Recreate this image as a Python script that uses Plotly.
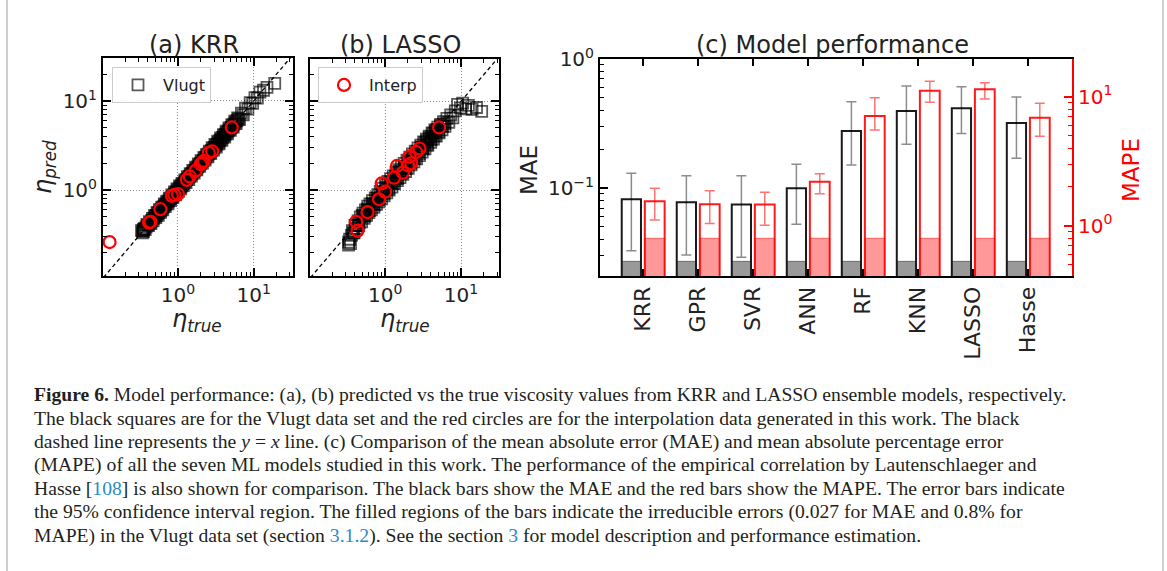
import plotly.graph_objects as go

W, H = 1167, 571


def fx(x):
    return x / W


def fy(y):
    return 1 - y / H


# ---------------- (a), (b): predicted vs true viscosity ----------------
krr_vlugt_true = [
    0.33, 0.34, 0.35, 0.35, 0.36, 0.37, 0.39, 0.41, 0.42, 0.44, 0.46, 0.47, 0.49, 0.51,
    0.53, 0.55, 0.57, 0.59, 0.61, 0.63, 0.66, 0.68, 0.71, 0.74, 0.77, 0.80, 0.83, 0.86,
    0.90, 0.93, 0.97, 1.01, 1.05, 1.09, 1.13, 1.18, 1.23, 1.28, 1.33, 1.39, 1.45, 1.51,
    1.57, 1.64, 1.71, 1.78, 1.86, 1.94, 2.02, 2.11, 2.20, 2.29, 2.39, 2.49, 2.60, 2.71,
    2.83, 2.95, 3.08, 3.21, 3.35, 3.50, 3.65, 3.81, 3.98, 4.15, 4.33, 4.52, 4.72, 4.93,
    5.15, 5.38, 5.62, 5.87, 6.15, 6.5, 6.9, 7.3, 7.8, 8.4, 9.0, 9.7, 10.4, 11.2, 12.1,
    13.5, 15.0, 19.0,
    0.345, 0.38, 0.40, 0.43, 0.45, 0.48, 0.50, 0.52, 0.54, 0.56, 0.58, 0.60, 0.62, 0.645,
    0.67, 0.695, 0.72, 0.75, 0.785, 0.815, 0.845, 0.88, 0.915, 0.95, 0.99, 1.03, 1.07,
    1.11, 1.155, 1.205, 1.255, 1.305, 1.36, 1.42, 1.48, 1.54, 1.605, 1.675, 1.745, 1.82,
    1.90, 1.98, 2.065, 2.155, 2.245, 2.34, 2.44, 2.545, 2.655, 2.77, 2.89, 3.015, 3.145,
    3.28, 3.425, 3.575, 3.73, 3.895, 4.065, 4.24, 4.425, 4.62, 4.825, 5.04, 5.265, 5.50,
    5.745, 6.0, 6.3,
]
krr_vlugt_pred = [
    0.35, 0.33, 0.36, 0.34, 0.37, 0.36, 0.41, 0.40, 0.44, 0.42, 0.48, 0.45, 0.52, 0.49,
    0.56, 0.52, 0.60, 0.56, 0.64, 0.60, 0.70, 0.65, 0.75, 0.70, 0.81, 0.76, 0.88, 0.82,
    0.95, 0.88, 1.03, 0.96, 1.11, 1.03, 1.19, 1.12, 1.30, 1.21, 1.41, 1.31, 1.53, 1.43,
    1.66, 1.55, 1.81, 1.69, 1.96, 1.84, 2.14, 2.00, 2.32, 2.17, 2.52, 2.36, 2.74, 2.57,
    2.99, 2.80, 3.25, 3.04, 3.54, 3.31, 3.85, 3.61, 4.20, 3.93, 4.57, 4.28, 4.98, 4.67,
    5.43, 5.10, 5.93, 5.56, 6.45, 6.2, 7.3, 7.0, 8.3, 8.1, 9.6, 9.4, 10.9, 10.8, 12.6,
    13.2, 14.2, 15.8,
    0.35, 0.385, 0.40, 0.43, 0.455, 0.48, 0.505, 0.52, 0.545, 0.56, 0.585, 0.60, 0.625,
    0.645, 0.675, 0.695, 0.725, 0.75, 0.79, 0.815, 0.85, 0.88, 0.92, 0.95, 0.995, 1.03,
    1.075, 1.11, 1.16, 1.205, 1.26, 1.305, 1.365, 1.42, 1.485, 1.54, 1.61, 1.675, 1.75,
    1.82, 1.905, 1.98, 2.07, 2.155, 2.25, 2.34, 2.445, 2.545, 2.66, 2.77, 2.895, 3.015,
    3.15, 3.28, 3.43, 3.575, 3.735, 3.895, 4.07, 4.24, 4.43, 4.62, 4.83, 5.04, 5.27,
    5.50, 5.75, 6.0, 6.3,
]

lasso_vlugt_true = [
    0.33, 0.33, 0.34, 0.35, 0.36, 0.37, 0.39, 0.40, 0.42, 0.44, 0.45, 0.47, 0.49, 0.51,
    0.53, 0.55, 0.57, 0.59, 0.61, 0.63, 0.66, 0.68, 0.71, 0.74, 0.77, 0.80, 0.83, 0.86,
    0.90, 0.93, 0.97, 1.01, 1.05, 1.09, 1.13, 1.18, 1.23, 1.28, 1.33, 1.39, 1.45, 1.51,
    1.57, 1.64, 1.71, 1.78, 1.86, 1.94, 2.02, 2.11, 2.20, 2.29, 2.39, 2.49, 2.60, 2.71,
    2.83, 2.95, 3.08, 3.21, 3.35, 3.50, 3.65, 3.81, 3.98, 4.15, 4.33, 4.52, 4.72, 4.93,
    5.15, 5.38, 5.62, 5.87, 6.15, 6.5, 6.9, 7.3, 7.8, 8.4, 9.0, 9.8, 10.5, 11.5, 12.5,
    14.0, 16.0, 18.7,
    0.52, 0.60, 0.70, 0.80, 0.92, 1.05, 1.20, 1.38, 1.58, 1.80, 2.05, 2.35, 2.70, 3.10,
    3.55, 4.05, 4.60,
    0.38, 0.41, 0.455, 0.50, 0.54, 0.58, 0.62, 0.67, 0.72, 0.775, 0.835, 0.90, 0.965,
    1.035, 1.11, 1.19, 1.275, 1.365, 1.46, 1.56, 1.67, 1.785, 1.905, 2.035, 2.17, 2.315,
    2.47, 2.63, 2.80, 2.98, 3.17, 3.37, 3.58, 3.80, 4.03, 4.27, 4.52, 4.78, 5.05, 5.35,
    5.7, 6.1,
]
lasso_vlugt_pred = [
    0.24, 0.26, 0.28, 0.25, 0.31, 0.35, 0.33, 0.40, 0.37, 0.45, 0.40, 0.50, 0.44, 0.55,
    0.48, 0.60, 0.52, 0.66, 0.56, 0.70, 0.60, 0.76, 0.64, 0.82, 0.69, 0.89, 0.74, 0.97,
    0.80, 1.05, 0.86, 1.15, 0.93, 1.25, 1.00, 1.35, 1.08, 1.45, 1.18, 1.58, 1.28, 1.70,
    1.38, 1.85, 1.50, 2.00, 1.62, 2.18, 1.76, 2.35, 1.92, 2.55, 2.08, 2.75, 2.25, 2.98,
    2.45, 3.20, 2.68, 3.48, 2.92, 3.75, 3.18, 4.05, 3.45, 4.40, 3.75, 4.75, 4.05, 5.10,
    4.40, 5.50, 4.75, 5.90, 5.2, 6.4, 5.8, 7.0, 6.5, 7.8, 9.2, 8.4, 9.5, 8.2, 9.0,
    8.1, 8.5, 7.7,
    0.51, 0.59, 0.70, 0.78, 0.93, 1.03, 1.21, 1.35, 1.60, 1.76, 2.07, 2.30, 2.72, 3.02,
    3.58, 3.95, 4.62,
    0.33, 0.40, 0.43, 0.52, 0.51, 0.61, 0.59, 0.70, 0.68, 0.81, 0.79, 0.94, 0.91,
    1.08, 1.04, 1.24, 1.19, 1.42, 1.36, 1.62, 1.56, 1.85, 1.77, 2.10, 2.01, 2.38,
    2.28, 2.70, 2.58, 3.05, 2.92, 3.44, 3.28, 3.86, 3.68, 4.32, 4.10, 4.80, 4.55, 5.30,
    5.2, 5.6,
]

interp_true = [0.125, 0.415, 0.433, 0.586, 0.83, 0.90, 1.00, 1.31, 1.43, 1.71, 2.00,
               2.09, 2.20, 2.56, 2.83, 5.14]
krr_interp_pred = [0.26, 0.43, 0.44, 0.61, 0.86, 0.88, 0.90, 1.30, 1.42, 1.65, 1.95,
                   2.02, 2.12, 2.62, 2.72, 5.05]
lasso_interp_pred = [0.085, 0.44, 0.35, 0.566, 0.79, 1.19, 0.96, 1.38, 1.87, 1.57, 1.90,
                     2.37, 2.00, 2.69, 2.94, 5.07]

# ---------------- (c): model performance ----------------
models = ["KRR", "GPR", "SVR", "ANN", "RF", "KNN", "LASSO", "Hasse"]
mae = [0.082, 0.0775, 0.0746, 0.0995, 0.277, 0.395, 0.415, 0.319]
mae_lo = [0.0327, 0.0303, 0.0290, 0.0524, 0.151, 0.218, 0.264, 0.170]
mae_hi = [0.130, 0.1245, 0.1245, 0.153, 0.467, 0.618, 0.610, 0.507]
mape = [1.55, 1.47, 1.46, 2.19, 7.08, 11.1, 11.4, 6.87]
mape_lo = [1.11, 1.04, 1.01, 1.77, 5.52, 9.04, 9.60, 4.93]
mape_hi = [1.95, 1.87, 1.82, 2.53, 9.82, 13.2, 12.8, 8.89]
mae_floor = 0.027
mape_floor = 0.8

TXT = "#222222"
FONT = "DejaVu Sans"

fig = go.Figure()


def parity_panel(xa, ya, vt, vp, ip, legend_name, show_vlugt, show_interp):
    fig.add_trace(go.Scatter(
        x=[0.03, 60], y=[0.03, 60], mode="lines", xaxis=xa, yaxis=ya,
        line=dict(color="black", width=1.3, dash="4px,3px"),
        showlegend=False, hoverinfo="skip"))
    fig.add_trace(go.Scatter(
        x=vt, y=vp, mode="markers", name="Vlugt", xaxis=xa, yaxis=ya,
        marker=dict(symbol="square-open", size=11, color="rgba(0,0,0,0.65)",
                    line=dict(width=1.8)),
        showlegend=show_vlugt, legend=legend_name))
    fig.add_trace(go.Scatter(
        x=interp_true, y=ip, mode="markers", name="Interp", xaxis=xa, yaxis=ya,
        marker=dict(symbol="circle-open", size=12, color="#ff0000",
                    line=dict(width=2.2)),
        showlegend=show_interp, legend=legend_name))


parity_panel("x", "y", krr_vlugt_true, krr_vlugt_pred, krr_interp_pred, "legend", True, False)
parity_panel("x2", "y2", lasso_vlugt_true, lasso_vlugt_pred, lasso_interp_pred, "legend2", False, True)

# filled irreducible-error regions
fig.add_trace(go.Bar(
    x=models, y=[mae_floor] * len(models), xaxis="x3", yaxis="y3",
    width=0.35, offset=-0.385,
    marker=dict(color="rgba(128,128,128,0.8)", line=dict(color="rgba(60,60,60,0.6)", width=1)),
    showlegend=False, hoverinfo="skip"))
fig.add_trace(go.Bar(
    x=models, y=[mape_floor] * len(models), xaxis="x3", yaxis="y4",
    width=0.36, offset=0.035,
    marker=dict(color="rgba(255,0,0,0.4)", line=dict(color="rgba(255,0,0,0.5)", width=1)),
    showlegend=False, hoverinfo="skip"))

# MAE bars (left axis) and MAPE bars (right axis) with 95% CI
fig.add_trace(go.Bar(
    x=models, y=mae, xaxis="x3", yaxis="y3", width=0.35, offset=-0.385,
    marker=dict(color="rgba(0,0,0,0)", line=dict(color="#1a1a1a", width=2)),
    error_y=dict(type="data", symmetric=False,
                 array=[h - v for h, v in zip(mae_hi, mae)],
                 arrayminus=[v - l for v, l in zip(mae, mae_lo)],
                 color="rgba(0,0,0,0.45)", thickness=1.5, width=5),
    showlegend=False))
fig.add_trace(go.Bar(
    x=models, y=mape, xaxis="x3", yaxis="y4", width=0.36, offset=0.035,
    marker=dict(color="rgba(0,0,0,0)", line=dict(color="rgba(255,0,0,0.9)", width=2)),
    error_y=dict(type="data", symmetric=False,
                 array=[h - v for h, v in zip(mape_hi, mape)],
                 arrayminus=[v - l for v, l in zip(mape, mape_lo)],
                 color="rgba(255,0,0,0.55)", thickness=1.5, width=5),
    showlegend=False))

# empty traces that attach the tick-only top/right axes to their panels
for xa, ya in [("x4", "y"), ("x", "y5"), ("x5", "y2"), ("x2", "y6"), ("x6", "y3")]:
    fig.add_trace(go.Scatter(x=[], y=[], xaxis=xa, yaxis=ya, showlegend=False,
                             hoverinfo="skip"))

dec_minor = [0.2, 0.3, 0.4, 0.5, 0.6, 0.7, 0.8, 0.9, 2, 3, 4, 5, 6, 7, 8, 9, 20, 30]


def parity_axis(domain, rng, anchor, labels=True):
    return dict(
        type="log", domain=domain, range=rng, anchor=anchor,
        showline=True, linecolor="black", linewidth=2, mirror=True,
        ticks="inside", ticklen=8, tickwidth=1.5, tickcolor="black",
        tickvals=[1, 10], ticktext=["10<sup>0</sup>", "10<sup>1</sup>"],
        showticklabels=labels, tickfont=dict(family=FONT, size=20, color=TXT),
        showgrid=True, gridcolor="#8c8c8c", griddash="1px,2px", gridwidth=1,
        minor=dict(tickvals=dec_minor, ticks="inside", ticklen=4, tickwidth=1,
                   tickcolor="black", showgrid=False),
        zeroline=False)


def tick_only_axis(over, side, rng, anchor):
    return dict(
        type="log", overlaying=over, side=side, range=rng, anchor=anchor,
        showline=False, ticks="inside", ticklen=8, tickwidth=1.5, tickcolor="black",
        tickvals=[1, 10], showticklabels=False, showgrid=False, zeroline=False,
        minor=dict(tickvals=dec_minor, ticks="inside", ticklen=4, tickwidth=1,
                   tickcolor="black", showgrid=False))


xr_a, yr_a = [-0.99, 1.52], [-0.966, 1.483]
xr_b, yr_b = [-0.99, 1.50], [-0.966, 1.475]

mae_minor = [0.03, 0.04, 0.05, 0.06, 0.07, 0.08, 0.09, 0.2, 0.3, 0.4, 0.5, 0.6, 0.7, 0.8, 0.9]
mape_minor = [0.5, 0.6, 0.7, 0.8, 0.9, 2, 3, 4, 5, 6, 7, 8, 9]

layout = dict(
    width=W, height=H, margin=dict(l=0, r=0, t=0, b=0),
    template="none", paper_bgcolor="white", plot_bgcolor="white",
    barmode="overlay",
    xaxis=parity_axis([fx(103), fx(293)], xr_a, "y"),
    yaxis=parity_axis([fy(276), fy(58)], yr_a, "x"),
    xaxis2=parity_axis([fx(310), fx(499)], xr_b, "y2"),
    yaxis2=parity_axis([fy(276), fy(59)], yr_b, "x2", labels=False),
    xaxis4=tick_only_axis("x", "top", xr_a, "y"),
    yaxis5=tick_only_axis("y", "right", yr_a, "x"),
    xaxis5=tick_only_axis("x2", "top", xr_b, "y2"),
    yaxis6=tick_only_axis("y2", "right", yr_b, "x2"),
    xaxis3=dict(
        domain=[fx(600), fx(1072)], anchor="y3", type="category",
        range=[-0.78, 7.8], showline=True, linecolor="black", linewidth=2,
        mirror=True, ticks="inside", ticklen=7, tickwidth=1.5, tickcolor="black",
        tickangle=-90, tickfont=dict(family=FONT, size=22, color=TXT),
        showgrid=False, zeroline=False),
    xaxis6=dict(
        overlaying="x3", side="top", anchor="y3", type="linear",
        range=[-0.78, 7.8], showline=False, ticks="inside", ticklen=7, tickwidth=1.5,
        tickcolor="black", tickvals=list(range(len(models))), showticklabels=False,
        showgrid=False, zeroline=False),
    yaxis3=dict(
        domain=[fy(276), fy(59)], anchor="x3", type="log",
        range=[-1.682, 0.0], showline=True, linecolor="black", linewidth=2,
        ticks="inside", ticklen=8, tickwidth=1.5, tickcolor="black",
        tickvals=[0.1, 1], ticktext=["10<sup>\u22121</sup>", "10<sup>0</sup>"],
        tickfont=dict(family=FONT, size=20, color=TXT),
        minor=dict(tickvals=mae_minor, ticks="inside", ticklen=4, tickwidth=1,
                   tickcolor="black", showgrid=False),
        showgrid=False, zeroline=False),
    yaxis4=dict(
        overlaying="y3", side="right", anchor="x3", type="log",
        range=[-0.389, 1.292], showline=True, linecolor="#ff0000", linewidth=2,
        ticks="inside", ticklen=8, tickwidth=1.5, tickcolor="#ff0000",
        tickvals=[1, 10], ticktext=["10<sup>0</sup>", "10<sup>1</sup>"],
        tickfont=dict(family=FONT, size=20, color="#ff0000"),
        minor=dict(tickvals=mape_minor, ticks="inside", ticklen=4, tickwidth=1,
                   tickcolor="#ff0000", showgrid=False),
        showgrid=False, zeroline=False),
    legend=dict(
        x=fx(112), y=fy(67), xanchor="left", yanchor="top",
        bgcolor="rgba(255,255,255,0.85)", bordercolor="#cccccc", borderwidth=1,
        font=dict(family=FONT, size=16, color=TXT), itemwidth=40),
    legend2=dict(
        x=fx(318), y=fy(67), xanchor="left", yanchor="top",
        bgcolor="rgba(255,255,255,0.85)", bordercolor="#cccccc", borderwidth=1,
        font=dict(family=FONT, size=16, color=TXT), itemwidth=40),
)
fig.update_layout(**layout)


def ann(x, y, text, size, color=TXT, angle=0, family=FONT, xanchor="center"):
    return dict(x=fx(x), y=fy(y), xref="paper", yref="paper", text=text,
                showarrow=False, textangle=angle, xanchor=xanchor, yanchor="middle",
                font=dict(family=family, size=size, color=color))


annotations = [
    ann(194, 45, "(a) KRR", 24),
    ann(400, 45, "(b) LASSO", 24),
    ann(832, 45, "(c) Model performance", 24),
    ann(45, 167, "<i>η</i><sub><i>pred</i></sub>", 24, angle=-90),
    ann(197, 320, "<i>η</i><sub><i>true</i></sub>", 24),
    ann(405, 320, "<i>η</i><sub><i>true</i></sub>", 24),
    ann(529, 170, "MAE", 23, angle=-90),
    ann(1131, 170, "MAPE", 23, color="#ff0000", angle=-90),
]

LINK = "#2a8ac8"
caption = [
    "<b>Figure 6.</b> Model performance: (a), (b) predicted vs the true viscosity values from KRR and LASSO ensemble models, respectively.",
    "The black squares are for the Vlugt data set and the red circles are for the interpolation data generated in this work. The black",
    "dashed line represents the <i>y</i> = <i>x</i> line. (c) Comparison of the mean absolute error (MAE) and mean absolute percentage error",
    "(MAPE) of all the seven ML models studied in this work. The performance of the empirical correlation by Lautenschlaeger and",
    f"Hasse [<span style='color:{LINK}'>108</span>] is also shown for comparison. The black bars show the MAE and the red bars show the MAPE. The error bars indicate",
    "the 95% confidence interval region. The filled regions of the bars indicate the irreducible errors (0.027 for MAE and 0.8% for",
    f"MAPE) in the Vlugt data set (section <span style='color:{LINK}'>3.1.2</span>). See the section <span style='color:{LINK}'>3</span> for model description and performance estimation.",
]
for i, line in enumerate(caption):
    annotations.append(ann(32, 394 + 23.5 * i, line, 19.65, color="#231f20",
                           family="Liberation Serif", xanchor="left"))

fig.update_layout(
    annotations=annotations,
    shapes=[
        dict(type="line", xref="paper", yref="paper", x0=fx(7), x1=fx(7), y0=0, y1=1,
             line=dict(color="#cfcfcf", width=2)),
        dict(type="line", xref="paper", yref="paper", x0=fx(1163), x1=fx(1163), y0=0, y1=1,
             line=dict(color="#cfcfcf", width=2)),
    ],
)

fig.write_html("out.html")
